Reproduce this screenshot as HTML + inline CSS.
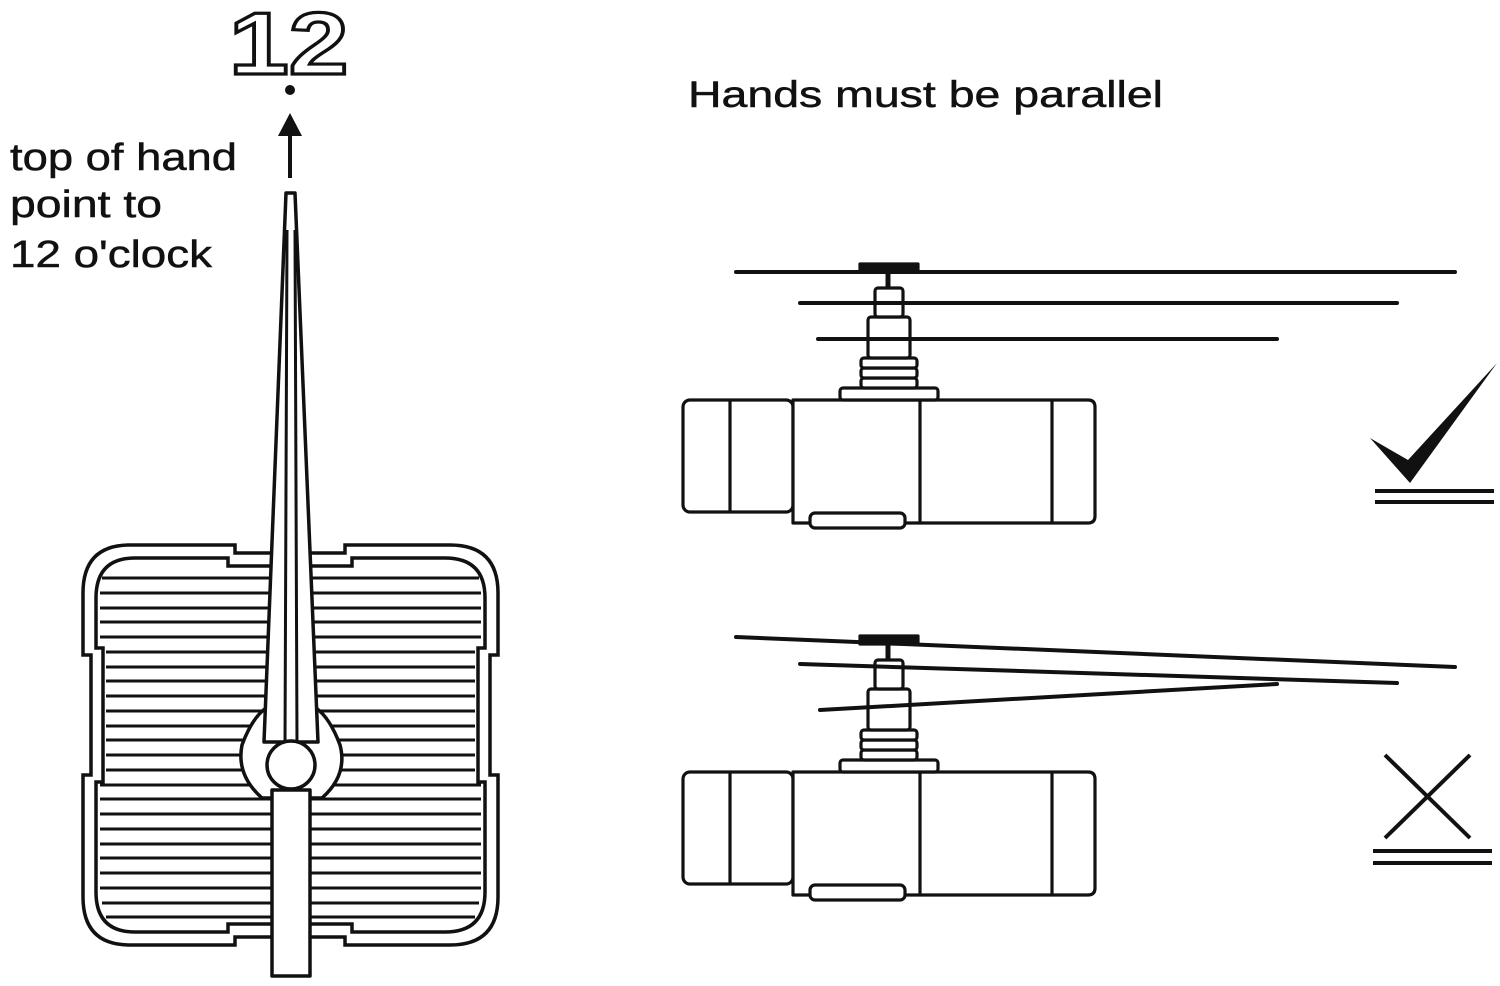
<!DOCTYPE html>
<html><head><style>
html,body{margin:0;padding:0;background:#fff;}
svg{display:block;}
text{font-family:"Liberation Sans",sans-serif;}
</style></head><body>
<svg width="1500" height="986" viewBox="0 0 1500 986" xmlns="http://www.w3.org/2000/svg">
<defs>
<g id="mv" fill="#fff" stroke="#111" stroke-width="3.2" stroke-linejoin="round">
  <rect x="683" y="400" width="110" height="112" rx="7"/>
  <path d="M793 400 H1088 Q1095 400 1095 407 V516 Q1095 523 1088 523 H793 Z"/>
  <line x1="730" y1="401" x2="730" y2="511"/>
  <line x1="920" y1="401" x2="920" y2="522"/>
  <line x1="1052" y1="401" x2="1052" y2="522"/>
  <rect x="810" y="513" width="95" height="15" rx="5"/>
  <rect x="840" y="388" width="98" height="12" rx="3"/>
  <rect x="861" y="378" width="56" height="10" rx="3"/>
  <rect x="861" y="368" width="56" height="10" rx="3"/>
  <rect x="861" y="358" width="56" height="10" rx="3"/>
  <rect x="868" y="317" width="42" height="41" rx="3"/>
  <rect x="875" y="288" width="28" height="29" rx="3"/>
  <line x1="888" y1="272" x2="888" y2="288" stroke-width="5"/>
  <rect x="860" y="264" width="58" height="8" fill="#111"/>
</g>
</defs>

<!-- 12 -->
<text transform="translate(229,74) scale(1.22,1)" x="0" y="0" font-size="88" font-weight="bold" style="fill:#fff;stroke:#111;stroke-width:3.2">12</text>
<circle cx="290" cy="90" r="5" fill="#111"/>
<line x1="290" y1="178" x2="290" y2="128" stroke="#111" stroke-width="4"/>
<polygon points="290,113 278,136 302,136" fill="#111"/>

<g style="fill:#111;stroke:#111;stroke-width:0.5">
<text x="10" y="170" font-size="38" textLength="227" lengthAdjust="spacingAndGlyphs">top of hand</text>
<text x="10" y="217" font-size="38" textLength="152" lengthAdjust="spacingAndGlyphs">point to</text>
<text x="10" y="267" font-size="38" textLength="202" lengthAdjust="spacingAndGlyphs">12 o'clock</text>
<text x="688" y="107" font-size="37" textLength="475" lengthAdjust="spacingAndGlyphs">Hands must be parallel</text>
</g>

<!-- clock body -->
<g fill="none" stroke="#111" stroke-width="3.5">
  <path d="M130 545 H235 V553 H345 V545 H450 Q498 545 498 593 V655 H490 V775 H498 V897 Q498 945 450 945 H345 V937 H235 V945 H130 Q83 945 83 897 V775 H91 V655 H83 V593 Q83 545 130 545 Z"/>
  <path d="M135 558 H228 V566 H352 V558 H445 Q485 558 485 598 V648 H478 V782 H485 V892 Q485 932 445 932 H352 V924 H228 V932 H135 Q96 932 96 892 V782 H103 V648 H96 V598 Q96 558 135 558 Z"/>
</g>
<g stroke="#111" stroke-width="3">
<line x1="102" y1="578" x2="479" y2="578"/><line x1="100" y1="593" x2="481" y2="593"/><line x1="100" y1="608" x2="481" y2="608"/><line x1="100" y1="622" x2="481" y2="622"/><line x1="100" y1="637" x2="481" y2="637"/><line x1="106" y1="652" x2="475" y2="652"/><line x1="106" y1="667" x2="475" y2="667"/><line x1="106" y1="681" x2="475" y2="681"/><line x1="106" y1="696" x2="475" y2="696"/><line x1="106" y1="711" x2="475" y2="711"/><line x1="106" y1="726" x2="475" y2="726"/><line x1="106" y1="740" x2="475" y2="740"/><line x1="106" y1="755" x2="475" y2="755"/><line x1="106" y1="770" x2="475" y2="770"/><line x1="100" y1="785" x2="481" y2="785"/><line x1="100" y1="799" x2="481" y2="799"/><line x1="100" y1="814" x2="481" y2="814"/><line x1="100" y1="829" x2="481" y2="829"/><line x1="100" y1="844" x2="481" y2="844"/><line x1="100" y1="858" x2="481" y2="858"/><line x1="100" y1="873" x2="481" y2="873"/><line x1="100" y1="888" x2="481" y2="888"/><line x1="102" y1="903" x2="479" y2="903"/><line x1="106" y1="917" x2="475" y2="917"/>
</g>
<!-- hands -->
<g fill="#fff" stroke="#111" stroke-width="3.5" stroke-linejoin="round">
  <path d="M242 745 Q236 775 262 798 L322 798 Q348 775 340 745 Q330 718 316 708 L266 708 Q252 718 242 745 Z"/>
  <rect x="272" y="790" width="38" height="186"/>
  <path d="M286 193 H295 L318 742 L264 742 Z"/>
  <line x1="287" y1="230" x2="285" y2="745" stroke-width="3"/>
  <line x1="295" y1="230" x2="297" y2="745" stroke-width="3"/>
  <circle cx="291" cy="765" r="24"/>
</g>

<!-- top movement -->
<use href="#mv"/>
<g stroke="#111" stroke-width="4" stroke-linecap="round">
  <line x1="736" y1="272" x2="1455" y2="272"/>
  <line x1="800" y1="303" x2="1397" y2="303"/>
  <line x1="818" y1="339" x2="1277" y2="339"/>
</g>
<!-- bottom movement -->
<use href="#mv" transform="translate(0,372)"/>
<g stroke="#111" stroke-width="4" stroke-linecap="round">
  <line x1="736" y1="637" x2="1455" y2="667"/>
  <line x1="800" y1="664" x2="1397" y2="683"/>
  <line x1="820" y1="710" x2="1277" y2="684"/>
</g>

<!-- check -->
<path d="M1370 438 L1410 483 L1497 363 L1408 460 Z" fill="#111"/>
<g stroke="#111" stroke-width="4">
  <line x1="1375" y1="491" x2="1494" y2="491"/>
  <line x1="1375" y1="502" x2="1494" y2="502"/>
  <line x1="1385" y1="755" x2="1470" y2="838"/>
  <line x1="1470" y1="755" x2="1385" y2="838"/>
  <line x1="1373" y1="851" x2="1492" y2="851"/>
  <line x1="1373" y1="863" x2="1492" y2="863"/>
</g>
</svg>
</body></html>
